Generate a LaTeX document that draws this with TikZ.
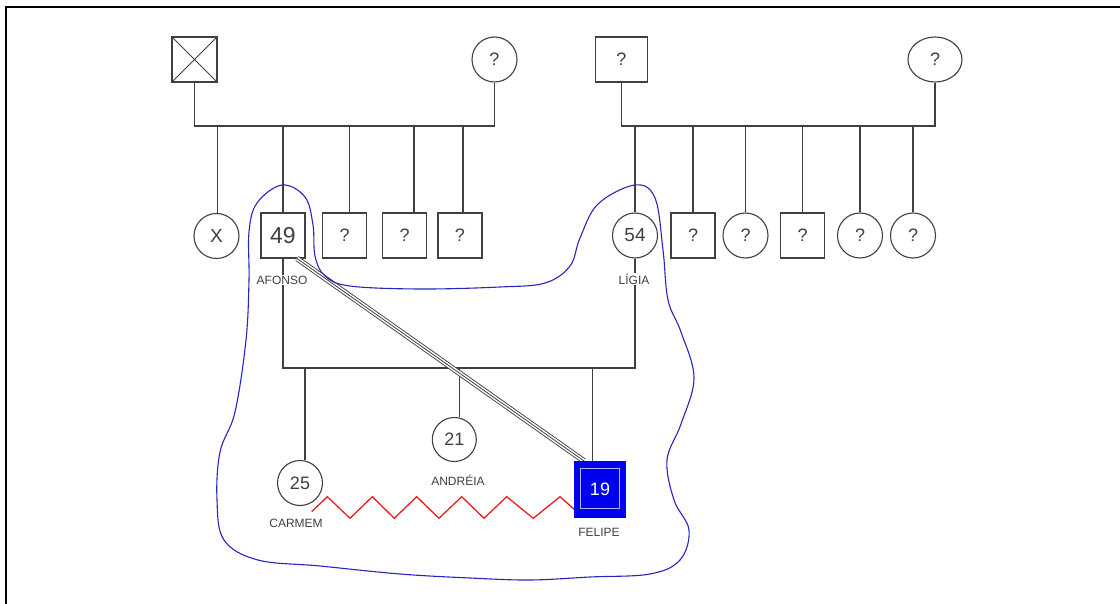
\documentclass[tikz,border=0pt]{standalone}
\usepackage{fontspec}
\setmainfont{Liberation Sans}
\usetikzlibrary{shapes.geometric}
\definecolor{ink}{rgb}{0.25,0.25,0.25}
\definecolor{zig}{rgb}{0.9,0.12,0.12}
\definecolor{loop}{rgb}{0.15,0.15,0.75}
\begin{document}
\begin{tikzpicture}[x=1pt,y=-1pt,
  ln/.style={draw=ink, line width=1.1pt},
  sq/.style={draw=ink, line width=1.1pt, fill=white, minimum width=44pt, minimum height=45pt, inner sep=0pt, text=ink, font=\fontsize{18}{18}\selectfont},
  ci/.style={draw=ink, line width=1.1pt, fill=white, circle, minimum size=45pt, inner sep=0pt, text=ink, font=\fontsize{18}{18}\selectfont},
  lbl/.style={font=\fontsize{12}{12}\selectfont, text=ink, fill=white, inner sep=1pt},
  zigline/.style={draw=zig, line width=1.3pt, line join=miter},
  loopline/.style={draw=loop, line width=1.1pt}
]
\useasboundingbox (0,0) rectangle (1120,604);
\draw[line width=2pt] (1120,7) -- (6,7) -- (6,604);

% levels
\coordinate (hL) at (0,126);
\coordinate (mar) at (0,368);

% grandparents
\node[sq, minimum width=45pt] (gpl) at (194.5,59.5) {};
\draw[ink, line width=0.8pt] (gpl.north west) -- (gpl.south east) (gpl.north east) -- (gpl.south west);
\node[ci] (gml) at (494.5,59.5) {?};
\node[sq, minimum width=52pt] (gpr) at (621.5,59.5) {?};
\node[ellipse, draw=ink, line width=1.1pt, fill=white, minimum width=54pt, minimum height=45pt, inner sep=0pt, text=ink, font=\fontsize{18}{18}\selectfont] (gmr) at (935,59.5) {?};

% left sibship
\node[ci, font=\fontsize{19}{19}\selectfont] (cx) at (216.5,236) {X};
\node[sq, font=\fontsize{23}{23}\selectfont] (afonso) at (283,235.5) {49};
\node[sq] (s2) at (344.7,235.5) {?};
\node[sq] (s3) at (404.7,235.5) {?};
\node[sq] (s4) at (460,235.5) {?};

\draw[ln] (gpl.south) -- (gpl.south |- hL) -- (gml.south |- hL) -- (gml.south);
\draw[ln] ([xshift=1pt]cx.north) -- ([xshift=1pt]cx.north |- hL);
\draw[ln] (afonso.north) -- (afonso.north |- hL);
\draw[ln] ([xshift=4.5pt]s2.north) -- ([xshift=4.5pt]s2.north |- hL);
\draw[ln] ([xshift=9.3pt]s3.north) -- ([xshift=9.3pt]s3.north |- hL);
\draw[ln] ([xshift=3pt]s4.north) -- ([xshift=3pt]s4.north |- hL);

% right sibship
\node[ci, font=\fontsize{19}{19}\selectfont] (ligia) at (635,235.5) {54};
\node[sq] (r1) at (693,235.5) {?};
\node[ci] (r2) at (745.5,235.5) {?};
\node[sq] (r3) at (802.5,235.5) {?};
\node[ci] (r4) at (860,235.5) {?};
\node[ci] (r5) at (913,235.5) {?};

\draw[ln] (gpr.south) -- (gpr.south |- hL) -- (gmr.south |- hL) -- (gmr.south);
\foreach \n in {ligia,r1,r2,r3,r4,r5} \draw[ln] (\n.north) -- (\n.north |- hL);

% children
\node[ci, font=\fontsize{18}{18}\selectfont] (carmem) at (300,483) {25};
\node[ci, minimum size=44pt, font=\fontsize{18}{18}\selectfont] (andreia) at (454.3,439.5) {21};
\coordinate (felc) at (600,489);

\draw[ln] (afonso.south) -- (afonso.south |- mar) -- (ligia.south |- mar) -- (ligia.south);
\draw[ln] ([xshift=5pt]carmem.north) -- ([xshift=5pt]carmem.north |- mar);
\draw[ln] ([xshift=5pt]andreia.north) -- ([xshift=5pt]andreia.north |- mar);
\coordinate (fdrop) at (592.3,461);
\draw[ln] (fdrop) -- (fdrop |- mar);

\node[lbl] (lafonso) at (282,280) {AFONSO};
\node[lbl] (lligia) at (634,279) {LÍGIA};
\node[lbl] (landreia) at (458,480) {ANDRÉIA};
\node[lbl] (lcarmem) at (296,523.5) {CARMEM};
\node[lbl] (lfelipe) at (599,532) {FELIPE};

% zigzag (conflict)
\coordinate (zs) at (311.7,511.7);
\coordinate (ze) at (575,510);
\draw[zigline] (zs) -- (327.3,496.7) -- (350,518.3) -- (372.3,496.7) -- (394.3,518.3) -- (416.7,496.7) -- (439,518.3) -- (461.7,496.7) -- (484,518.3) -- (506.7,496.7) -- (533.3,518.3) -- (560,496.7) -- (ze);

% triple line (close relationship)
\coordinate (t1) at (297,258.5);
\coordinate (t2) at (584,461);
\draw[ink, line width=5.6pt] (t1) -- (t2);
\draw[white, line width=3.8pt] (t1) -- (t2);
\draw[ink, line width=0.8pt] (t1) -- (t2);

% Felipe
\node[draw=none, fill={rgb,255:red,0;green,0;blue,240}, minimum width=52pt, minimum height=57pt, inner sep=0pt, text=white, font=\fontsize{18}{18}\selectfont] (felipe) at (felc) {19};
\draw[white!70!blue, line width=0.8pt] ([shift={(6.4,7.6)}]felipe.north west) rectangle ([shift={(-7,-9.4)}]felipe.south east);

% enclosing loop
\draw[loopline] plot[smooth cycle, tension=0.6] coordinates {
 (282,185) (305,197) (313,225) (315,256) (325,276) (350,286) (420,289) (500,287) (545,283) (570,266) (580,238) (598,204) (635,185) (655,198) (663,250) (668,300) (681,332) (694,378) (681,424) (667,460) (674,500) (689,530) (680,560) (650,574) (590,577) (530,580) (470,578) (400,574) (320,566) (258,560) (224,540) (217,500) (220,452) (235,412) (246,340) (249,280) (249,232) (257,203)};
\end{tikzpicture}
\end{document}
